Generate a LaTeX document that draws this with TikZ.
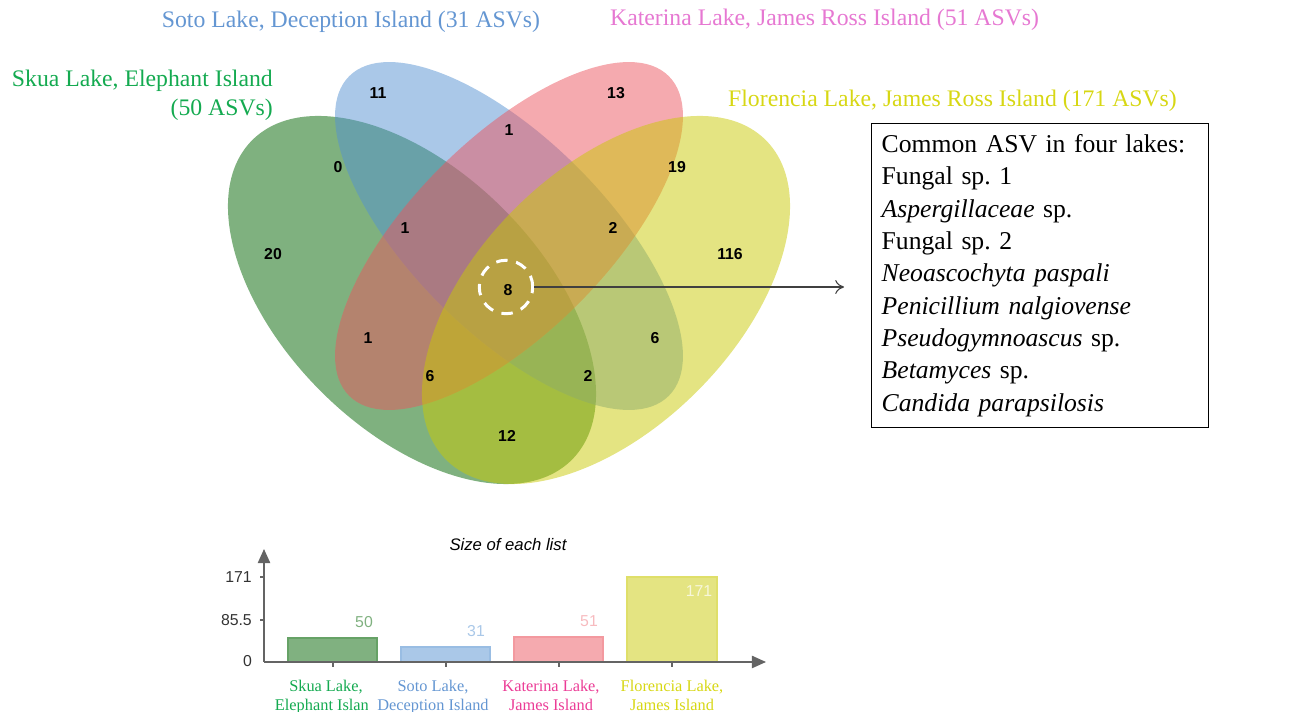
\documentclass[tikz,border=0pt]{standalone}
\usepackage{fontspec}
\setmainfont{Liberation Serif}
\newfontfamily\arialfont{Liberation Sans}
\usetikzlibrary{positioning,arrows.meta}
\frenchspacing

% set colours (R VennDiagram style, alpha 0.5)
\definecolor{skuagreen}{RGB}{0,100,0}
\definecolor{sotoblue}{RGB}{85,145,209}
\definecolor{katpink}{RGB}{235,85,95}
\definecolor{floryellow}{RGB}{201,201,5}
% text colours
\definecolor{skuatext}{RGB}{20,170,80}
\definecolor{sototext}{RGB}{100,150,210}
\definecolor{kattext}{RGB}{230,120,210}
\definecolor{katbar}{RGB}{235,60,150}
\definecolor{flortext}{RGB}{215,215,20}
\definecolor{axisgray}{RGB}{100,100,100}

\begin{document}
\begin{tikzpicture}[x=0.02cm, y=-0.02cm,
    vennset/.style={fill opacity=0.5},
    countlbl/.style={font=\arialfont\bfseries\fontsize{9}{10}\selectfont, text=black},
    venntitle/.style={font=\fontsize{13.5}{16.5}\selectfont},
    axisline/.style={axisgray, line width=0.8pt},
    barbox/.style={line width=1pt},
    vallbl/.style={font=\arialfont\fontsize{9}{10}\selectfont},
    ticklbl/.style={font=\arialfont\fontsize{9}{10}\selectfont, text=black!80, anchor=east},
    catlbl/.style={font=\fontsize{9.3}{10.8}\selectfont, align=center, anchor=north}]
  \useasboundingbox (0,0) rectangle (1296,712);

  % the four ellipses
  \fill[skuagreen, vennset, rotate around={-45:(412,300)}] (412,300) ellipse [x radius=226, y radius=129];
  \fill[sotoblue, vennset, rotate around={-45:(509,236)}] (509,236) ellipse [x radius=226, y radius=97];
  \fill[katpink, vennset, rotate around={45:(509,236)}] (509,236) ellipse [x radius=226, y radius=97];
  \fill[floryellow, vennset, rotate around={45:(606,300)}] (606,300) ellipse [x radius=226, y radius=129];

  % set names
  \node[venntitle, text=sototext] (soto) at (351,22) {Soto Lake, Deception Island (31 ASVs)};
  \node[venntitle, text=kattext, anchor=west] (kat) at (604,20) {Katerina Lake, James Ross Island (51 ASVs)};
  \node[venntitle, text=skuatext, align=right, anchor=north east] (skua) at (279,64) {Skua Lake, Elephant Island\\(50 ASVs)};
  \node[venntitle, text=flortext, anchor=west] (flor) at (722,101) {Florencia Lake, James Ross Island (171 ASVs)};

  % region counts
  \node[countlbl] (c11) at (378,93) {11};
  \node[countlbl] (c13) at (616,93) {13};
  \node[countlbl] (c23) at (509,130) {1};
  \node[countlbl] (c12) at (338,167) {0};
  \node[countlbl] (c34) at (677,167) {19};
  \node[countlbl] (c20) at (273,254) {20};
  \node[countlbl] (c123) at (405,228) {1};
  \node[countlbl] (c234) at (613,228) {2};
  \node[countlbl] (c116) at (730,254) {116};
  \node[countlbl] (c13b) at (368,338) {1};
  \node[countlbl] (c24) at (655,338) {6};
  \node[countlbl] (c134) at (430,376) {6};
  \node[countlbl] (c124) at (588,376) {2};
  \node[countlbl] (c14) at (507,436) {12};
  \node[countlbl] (c8) at (508,290) {8};
  \node[circle, draw=white, line width=1.7pt, dash pattern=on 6.5pt off 5pt, minimum size=1.07cm] (core) at (506,287) {};

  % common list
  \node[draw, line width=0.8pt, anchor=north west, minimum width=6.74cm, minimum height=6.08cm,
        text width=6.34cm, inner xsep=0.2cm, align=left,
        font=\fontsize{14.6}{18.4}\selectfont] (common) at (871,123)
    {Common ASV in four lakes:\\
     Fungal sp. 1\\
     \textit{Aspergillaceae} sp.\\
     Fungal sp. 2\\
     \textit{Neoascochyta paspali}\\
     \textit{Penicillium nalgiovense}\\
     \textit{Pseudogymnoascus} sp.\\
     \textit{Betamyces} sp.\\
     \textit{Candida parapsilosis}};
  \draw[black!75, line width=0.6pt, -{To[length=5pt, width=8pt]}] (core.east) -- ([xshift=-0.54cm]core -| common.west);

  % bar chart
  \coordinate (origin) at (264,662);
  \node[font=\arialfont\itshape\fontsize{9.5}{11}\selectfont] (bartitle) at (508,545) {Size of each list};
  \draw[barbox, draw=skuagreen!60, fill=skuagreen!50!white] (288,662) rectangle (377,638);
  \draw[barbox, draw=sotoblue!60, fill=sotoblue!50!white] (401,662) rectangle (490,647);
  \draw[barbox, draw=katpink!60, fill=katpink!50!white] (514,662) rectangle (603,637);
  \draw[barbox, draw=floryellow!60, fill=floryellow!50!white] (627,662) rectangle (717,577);
  \draw[axisline, -{Triangle[length=8pt, width=7pt]}] (origin) -- (264,549);
  \draw[axisline, -{Triangle[length=8pt, width=7pt]}] (origin) -- (766,662);
  \draw[axisline] (260,577) -- (264,577) (260,620) -- (264,620);
  \draw[axisline] (333,662) -- (333,667) (446,662) -- (446,667) (559,662) -- (559,667) (672,662) -- (672,667);
  \node[ticklbl] (t171) at (258,577) {171};
  \node[ticklbl] (t855) at (258,620) {85.5};
  \node[ticklbl] (t0) at (258,661) {0};
  \node[vallbl, text=skuagreen!50!white] (v50) at (364,622) {50};
  \node[vallbl, text=sotoblue!50!white] (v31) at (476,631) {31};
  \node[vallbl, text=katpink!40!white] (v51) at (589,621) {51};
  \node[vallbl, text=white!85!floryellow] (v171) at (699,591) {171};
  \begin{scope}
    \clip (265,670) rectangle (367,712);
    \node[catlbl, text=skuatext] (k1) at (326,674) {Skua Lake,\\Elephant Island};
  \end{scope}
  \node[catlbl, text=sototext] (k2) at (433,674) {Soto Lake,\\Deception Island};
  \node[catlbl, text=katbar] (k3) at (551,674) {Katerina Lake,\\James Island};
  \node[catlbl, text=flortext] (k4) at (672,674) {Florencia Lake,\\James Island};
\end{tikzpicture}
\end{document}
